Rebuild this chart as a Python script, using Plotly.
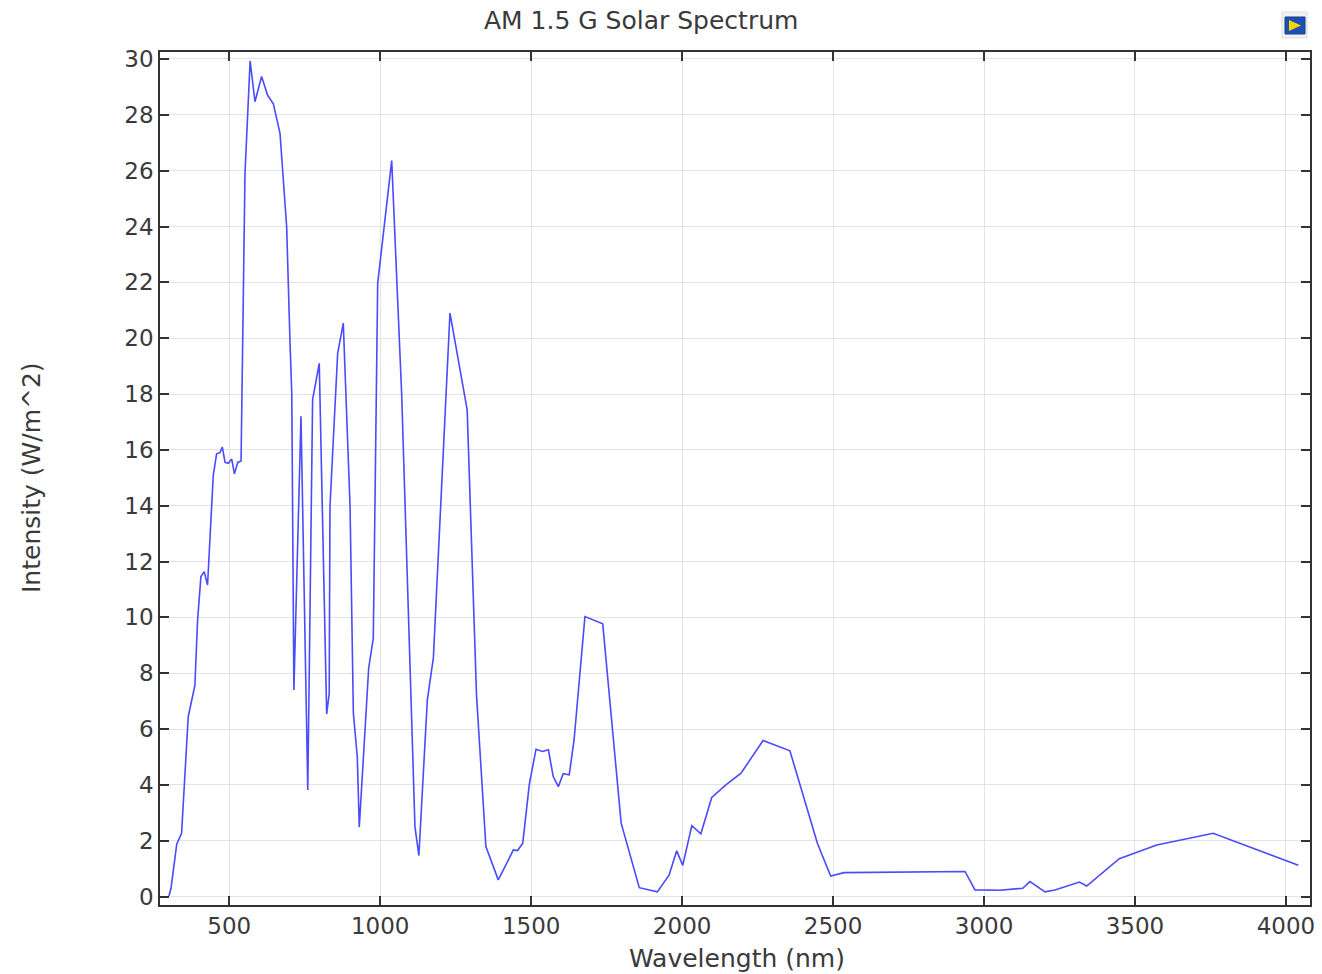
import plotly.graph_objects as go

wavelength_nm = [300, 307, 326, 342, 364, 386, 395, 406, 417, 428, 447, 458, 469, 477, 486, 497,
                 508, 517, 528, 539, 552, 569, 585, 607, 627, 646, 668, 690, 701, 707, 714, 737.5,
                 760, 776, 798, 822.6, 831, 833.5, 859, 877.6, 900, 911, 924, 930.6, 961.7, 977,
                 991.6, 1038, 1071, 1115, 1128, 1156, 1176, 1190, 1231, 1288, 1319, 1350, 1391,
                 1441, 1455, 1472, 1494, 1516, 1538, 1557, 1573, 1590, 1606, 1626, 1642, 1678,
                 1737, 1798, 1858, 1918, 1957, 1982, 2002, 2032, 2062, 2098, 2145, 2195, 2268,
                 2357, 2448, 2492, 2536, 2937, 2970, 3053, 3128, 3152, 3202, 3235, 3316, 3340,
                 3448, 3572, 3759, 4041]
intensity = [0.02, 0.3, 1.89, 2.27, 6.45, 7.56, 9.9, 11.46, 11.64, 11.16, 15.1, 15.86, 15.9, 16.1,
             15.55, 15.52, 15.67, 15.14, 15.55, 15.6, 25.9, 29.93, 28.47, 29.37, 28.7, 28.39, 27.34,
             24.0, 19.9, 18.0, 7.4, 17.2, 3.82, 17.8, 19.1, 6.54, 7.28, 13.97, 19.46, 20.54, 13.97,
             6.57, 5.0, 2.49, 8.18, 9.25, 21.97, 26.36, 18.0, 2.5, 1.47, 7.05, 8.55, 11.7, 20.9,
             17.43, 7.2, 1.79, 0.6, 1.67, 1.65, 1.91, 4.04, 5.28, 5.2, 5.26, 4.3, 3.94, 4.4, 4.36,
             5.61, 10.03, 9.77, 2.63, 0.32, 0.17, 0.78, 1.64, 1.12, 2.54, 2.25, 3.55, 4.0, 4.42,
             5.59, 5.22, 1.91, 0.74, 0.86, 0.9, 0.24, 0.23, 0.3, 0.54, 0.17, 0.24, 0.52, 0.38,
             1.36, 1.85, 2.27, 1.12]

x_ticks = [500, 1000, 1500, 2000, 2500, 3000, 3500, 4000]
y_ticks = list(range(0, 31, 2))

FONT = "DejaVu Sans"
TXT = "#3a3a3a"

fig = go.Figure()
fig.add_trace(go.Scatter(x=wavelength_nm, y=intensity, mode="lines",
                         line=dict(color="#4a4aff", width=1.6), showlegend=False,
                         hoverinfo="x+y"))

axis_common = dict(showline=True, linecolor="#333333", linewidth=1.5, mirror="ticks",
                   ticks="inside", ticklen=9, tickwidth=1.5, tickcolor="#333333",
                   showgrid=True, gridcolor="#e3e3e3", gridwidth=1, zeroline=False,
                   automargin=False,
                   tickfont=dict(family=FONT, size=23, color=TXT))

fig.update_layout(
    width=1322, height=974,
    paper_bgcolor="white", plot_bgcolor="white",
    margin=dict(l=160, r=12, t=52, b=69),
    title=dict(text="AM 1.5 G Solar Spectrum", x=0.485, xanchor="center", y=0.979, yanchor="middle",
               font=dict(family=FONT, size=25, color=TXT)),
    xaxis=dict(range=[270.5, 4079.7], tickvals=x_ticks, **axis_common),
    yaxis=dict(range=[-0.3, 30.25], tickvals=y_ticks, **axis_common),
)

# axis titles placed as annotations
fig.add_annotation(text="Wavelength (nm)", xref="paper", yref="paper",
                   x=(737 - 160) / 1150, y=(905 - 958) / 853, xanchor="center", yanchor="middle",
                   showarrow=False, font=dict(family=FONT, size=25, color=TXT))
fig.add_annotation(text="Intensity (W/m^2)", xref="paper", yref="paper", textangle=-90,
                   x=(31 - 160) / 1150, y=(905 - 478) / 853, xanchor="center", yanchor="middle",
                   showarrow=False, font=dict(family=FONT, size=25, color=TXT))

# small logo icon at top right
fig.add_shape(type="rect", xref="paper", yref="paper",
              x0=(1282 - 160) / 1150, x1=(1307 - 160) / 1150,
              y0=(905 - 38) / 853, y1=(905 - 12) / 853,
              fillcolor="#f2f2f2", line=dict(color="#dddddd", width=1), layer="above")
fig.add_shape(type="rect", xref="paper", yref="paper",
              x0=(1285 - 160) / 1150, x1=(1305 - 160) / 1150,
              y0=(905 - 34) / 853, y1=(905 - 17) / 853,
              fillcolor="#1f4fb4", line=dict(color="#173c8c", width=1), layer="above")
fig.add_shape(type="path", xref="paper", yref="paper",
              path="M {} {} L {} {} L {} {} Z".format((1289 - 160) / 1150, (905 - 31) / 853,
                                                      (1301 - 160) / 1150, (905 - 25.5) / 853,
                                                      (1289 - 160) / 1150, (905 - 20) / 853),
              fillcolor="#f5d800", line=dict(width=0), layer="above")

fig.write_html("out.html")
